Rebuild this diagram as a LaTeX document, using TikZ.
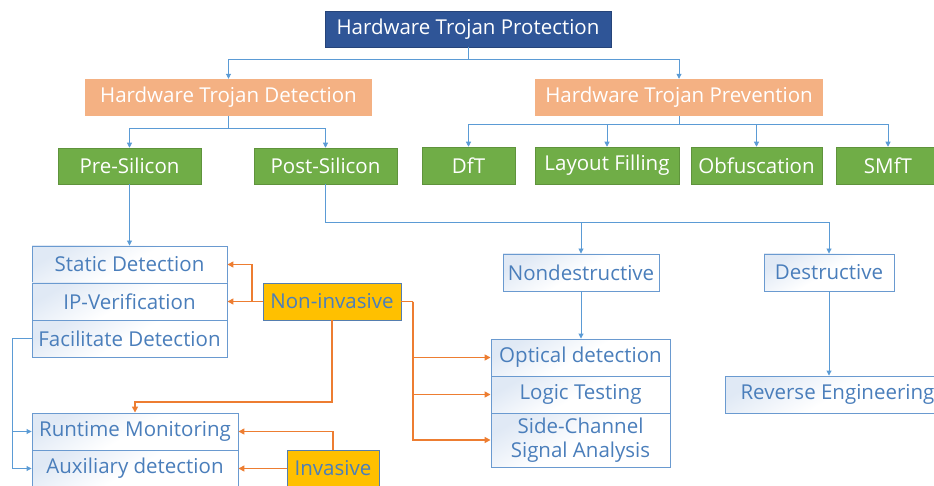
\documentclass[tikz,border=0pt]{standalone}
\usepackage{fontspec}
\setmainfont{Open Sans}
\usetikzlibrary{arrows.meta,calc}
\definecolor{hdrblue}{HTML}{2F5597}
\definecolor{salmon}{HTML}{F4B183}
\definecolor{grn}{HTML}{70AD47}
\definecolor{orng}{HTML}{ED7D31}
\definecolor{lnblue}{HTML}{5B9BD5}
\definecolor{ylw}{HTML}{FFC000}
\definecolor{txtblue}{HTML}{4A7EBB}
\definecolor{bxborder}{HTML}{6A9AD0}
\definecolor{tint}{HTML}{E0E9F5}
\tikzset{
  base/.style={rectangle, inner sep=0pt, font=\fontsize{20.5}{24}\selectfont, align=center},
  hdr/.style={base, fill=hdrblue, text=white, draw=hdrblue!80!black},
  lvl1/.style={base, fill=salmon, text=white},
  lvl2/.style={base, fill=grn, text=white, draw=grn!85!black, line width=0.5pt},
  bbox/.style={base, draw=bxborder, line width=0.9pt, left color=tint, right color=white, middle color=white, shading angle=30, text=txtblue},
  ybox/.style={base, fill=ylw, draw=txtblue!80!gray, line width=0.9pt, text=txtblue},
  bconn/.style={draw=lnblue, line width=0.9pt, -{Triangle[length=5pt,width=5pt]}},
  bline/.style={draw=lnblue, line width=0.9pt},
  oconn/.style={draw=orng, line width=1.6pt, -{Triangle[length=6pt,width=6pt]}},
  oline/.style={draw=orng, line width=1.6pt},
}
\begin{document}
\begin{tikzpicture}[x=1pt,y=-1pt]
\useasboundingbox (0,0) rectangle (934,486);
\clip (0,0) rectangle (934,486);
% top levels
\node[hdr, minimum width=286pt, minimum height=36pt] (prot) at (468,29) {Hardware Trojan Protection};
\node[lvl1, minimum width=287pt, minimum height=37pt] (det) at (228.5,97.5) {Hardware Trojan Detection};
\node[lvl1, minimum width=288pt, minimum height=37pt] (prev) at (679,97.5) {Hardware Trojan Prevention};
\node[lvl2, minimum width=143pt, minimum height=36pt] (pre) at (129.5,166) {Pre-Silicon};
\node[lvl2, minimum width=143pt, minimum height=36pt] (post) at (325.5,166) {Post-Silicon};
\node[lvl2, minimum width=93pt, minimum height=37pt] (dft) at (468.5,165.5) {DfT};
\node[lvl2, minimum width=144pt, minimum height=37pt] (layout) at (607,165.5) {Layout Filling};
\node[lvl2, minimum width=131pt, minimum height=37pt] (obf) at (756.5,165.5) {Obfuscation};
\node[lvl2, minimum width=104pt, minimum height=37pt] (smft) at (888,165.5) {SMfT};
% pre-silicon boxes
\node[bbox, minimum width=195pt, minimum height=37pt] (static) at (129.5,264.5) {Static Detection};
\node[bbox, minimum width=195pt, minimum height=37pt] (ipv) at (129.5,301.5) {IP-Verification};
\node[bbox, minimum width=195pt, minimum height=37pt] (fac) at (129.5,338.5) {Facilitate Detection};
\node[bbox, minimum width=206pt, minimum height=37pt] (rt) at (135,431.5) {Runtime Monitoring};
\node[bbox, minimum width=206pt, minimum height=37pt] (aux) at (135,468.5) {Auxiliary detection};
\node[ybox, minimum width=138pt, minimum height=37pt] (nonin) at (332,301.5) {Non-invasive};
\node[ybox, minimum width=92pt, minimum height=37pt] (inv) at (333,468.5) {Invasive};
% post-silicon boxes
\node[bbox, minimum width=156pt, minimum height=37pt] (nond) at (581,272.5) {Nondestructive};
\node[bbox, minimum width=130pt, minimum height=37pt] (des) at (829,272.5) {Destructive};
\node[bbox, minimum width=179pt, minimum height=37pt] (opt) at (580.5,357.5) {Optical detection};
\node[bbox, minimum width=179pt, minimum height=37pt] (logic) at (580.5,394.5) {Logic Testing};
\node[bbox, minimum width=179pt, minimum height=54pt] (side) at (580.5,440) {Side-Channel\\Signal Analysis};
\node[bbox, minimum width=225pt, minimum height=37pt] (rev) at (837.5,394.5) {Reverse Engineering};
% blue connectors
\draw[bconn] (prot.south) -- (prot.south |- 0,59) -| (det.north);
\draw[bconn] (prot.south |- 0,59) -| (prev.north);
\draw[bconn] (det.south) -- (det.south |- 0,128) -| (pre.north);
\draw[bconn] (det.south |- 0,128) -| (post.north);
\draw[bconn] (prev.south) -- (prev.south |- 0,124) -| (dft.north);
\draw[bconn] (prev.south |- 0,124) -| (layout.north);
\draw[bconn] (prev.south |- 0,124) -| (obf.north);
\draw[bconn] (prev.south |- 0,124) -| (smft.north);
\draw[bconn] (pre.south) -- (static.north);
\draw[bconn] (post.south) -- (post.south |- 0,222) -| (nond.north);
\draw[bconn] (post.south |- 0,222) -| (des.north);
\draw[bconn] (nond.south) -- (nond.south |- opt.north);
\draw[bconn] (des.south) -- (des.south |- rev.north);
\coordinate (fl) at (12,338.5);
\draw[bline] (fac.west) -- (fl);
\draw[bconn] (fl) |- (rt.west);
\draw[bconn] (fl) |- (aux.west);
% orange connectors
\draw[oconn] (nonin.west) -- (ipv.east);
\coordinate (nl) at (252,301.5);
\draw[oconn] (nl) |- (static.east);
\draw[oconn] (nonin.south) -- (nonin.south |- 0,402) -| (rt.north);
\coordinate (nr) at (413,301.5);
\draw[oline] (nonin.east) -- (nr);
\draw[oconn] (nr) |- (opt.west);
\draw[oconn] (nr) |- (logic.west);
\draw[oconn] (nr) |- (side.west);
\draw[oconn] (inv.west) -- (aux.east);
\draw[oconn] (inv.north) |- (rt.east);
\end{tikzpicture}
\end{document}
